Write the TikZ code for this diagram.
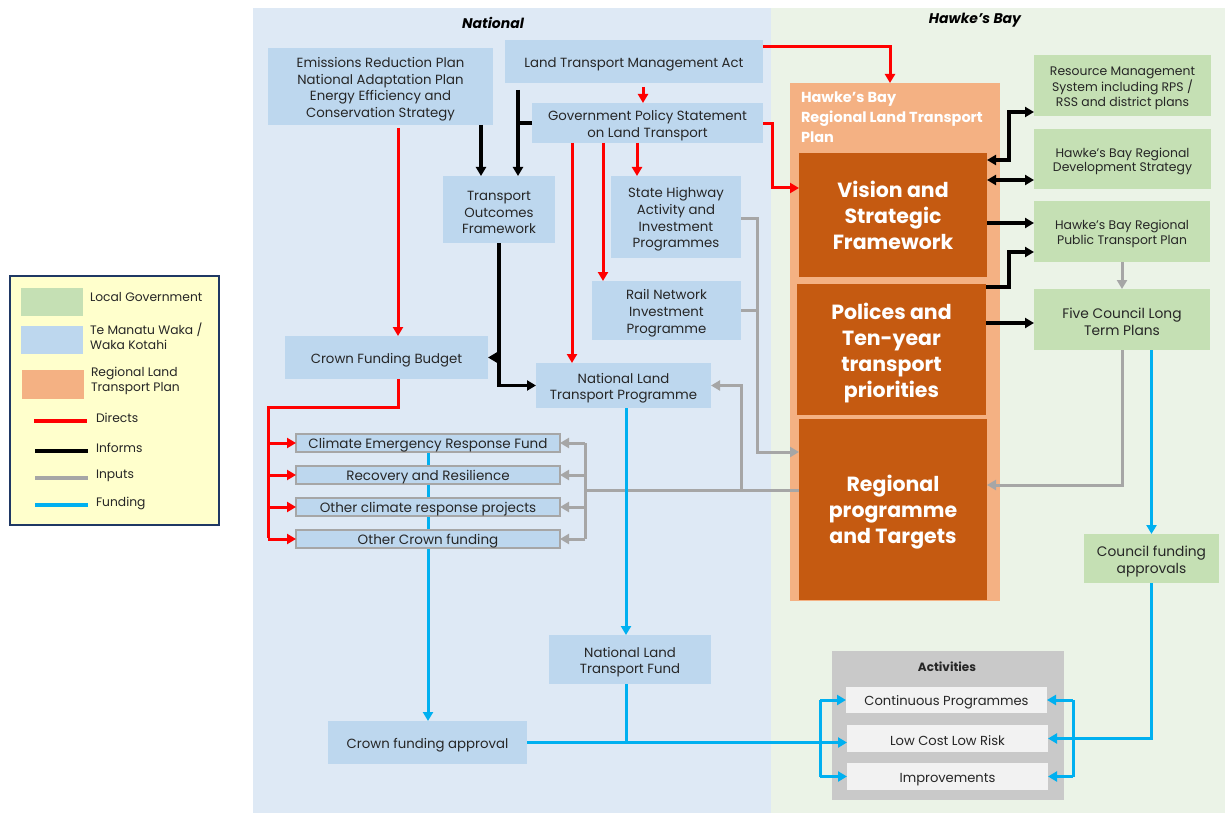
\documentclass[tikz,border=0pt]{standalone}
\usepackage{fontspec}
\setmainfont{Poppins}
\usetikzlibrary{arrows.meta,calc}

\definecolor{natbg}{HTML}{DEE9F5}
\definecolor{hbbg}{HTML}{EBF3E7}
\definecolor{tpblue}{HTML}{BDD7EE}
\definecolor{lgreen}{HTML}{C5E0B4}
\definecolor{lorange}{HTML}{F4B183}
\definecolor{rust}{HTML}{C55A11}
\definecolor{dirred}{HTML}{FF0000}
\definecolor{inpgray}{HTML}{A6A6A6}
\definecolor{fundblue}{HTML}{00B0F0}
\definecolor{legfill}{HTML}{FFFFCC}
\definecolor{navy}{HTML}{1F3864}
\definecolor{actbg}{HTML}{C9C9C9}
\definecolor{actfill}{HTML}{F2F2F2}
\definecolor{ink}{HTML}{262626}

\pgfdeclarelayer{panel}
\pgfdeclarelayer{under}
\pgfsetlayers{panel,under,main}

% invisible strut opening the first text line of a box (set by the 'lowered' style)
\newcommand\boxstrut{\relax}

% node from its corner coordinates: name, style, x1, y1, x2, y2, text
\newcommand\placebox[7]{%
  \node[#2, minimum width={#5-#3}, minimum height={#6-#4}] (#1)
    at ({(#3+#5)/2},{(#4+#6)/2}) {\boxstrut #7};}

\begin{document}
\begin{tikzpicture}[x=1pt,y=-1pt,
  every node/.style={inner sep=0pt, outer sep=0pt},
  % a tall strut on the first line sets the text a little lower in its box
  lowered/.style={/utils/exec={\def\boxstrut{\rule{0pt}{#1}}}},
  box/.style={fill=tpblue, align=center, text=ink,
    font=\fontsize{13.3}{16.7}\selectfont, lowered=1.15em},
  fund/.style={fill=tpblue, align=center, text=ink, draw=inpgray, line width=2pt,
    font=\fontsize{13.5}{16}\selectfont, lowered=1.05em},
  gbox/.style={fill=lgreen, align=center, text=ink,
    font=\fontsize{12.4}{14.5}\selectfont, lowered=1.15em},
  gboxl/.style={gbox, font=\fontsize{13.8}{17}\selectfont},
  plan/.style={fill=lorange, lowered=0pt},
  plantitle/.style={text=white, align=left,
    font=\bfseries\fontsize{14.5}{20}\selectfont},
  dark/.style={fill=rust, text=white, align=center,
    font=\bfseries\fontsize{20.5}{26}\selectfont, lowered=0.8em},
  actbox/.style={fill=actbg, lowered=0pt},
  act/.style={fill=actfill, text=ink, align=center,
    font=\fontsize{13.1}{15}\selectfont, lowered=1.15em},
  title/.style={font=\bfseries\itshape\fontsize{14}{16}\selectfont, text=black},
  legtxt/.style={anchor=west, align=left, text=ink,
    font=\fontsize{12.3}{15}\selectfont},
  tip/.style={-{Triangle[length=9pt,width=10pt]}},
  bitip/.style={{Triangle[length=9pt,width=10pt]}-{Triangle[length=9pt,width=10pt]}},
  directs/.style={draw=dirred, line width=3pt},
  informs/.style={draw=black, line width=3.5pt},
  inputs/.style={draw=inpgray, line width=3pt},
  funding/.style={draw=fundblue, line width=3pt},
  legline/.style={line width=4pt}
]
\useasboundingbox (0,0) rectangle (1225,813);

% ---------- panels ----------
\begin{pgfonlayer}{panel}
  \fill[white] (0,0) rectangle (1225,813);
  \fill[natbg] (253,8) rectangle (771,813);
  \fill[hbbg] (771,8) rectangle (1225,813);
\end{pgfonlayer}
\node[title] (natl) at (493,23) {National};
\node[title] (hbay) at (975,20) {Hawke’s Bay};

% ---------- legend ----------
\placebox{legend}{draw=navy, line width=2pt, fill=legfill, lowered=0pt}{10}{276}{219}{525}{}
\placebox{swlg}{fill=lgreen, lowered=0pt}{21}{288}{83}{316}{}
\placebox{swtp}{fill=tpblue, lowered=0pt}{21}{326}{83}{354}{}
\placebox{swrl}{fill=lorange, lowered=0pt}{22}{370}{84}{399}{}
\node[legtxt] (tlg) at (90,297) {Local Government};
\node[legtxt] (ttp) at (90,336) {Te Manatu Waka /\\Waka Kotahi};
\node[legtxt] (trl) at (91,381) {Regional Land\\Transport Plan};
\node[legtxt] (tdir) at (96,418) {Directs};
\node[legtxt] (tinf) at (96,448) {Informs};
\node[legtxt] (tinp) at (96,476) {Inputs};
\node[legtxt] (tfun) at (96,503) {Funding};
\draw[legline, dirred] (34,421) -- (87,421);
\draw[legline, black] (35,451) -- (88,451);
\draw[legline, inpgray] (35,478) -- (88,478);
\draw[legline, fundblue] (35,505) -- (88,505);

% ---------- national boxes ----------
\placebox{erp}{box}{268}{48}{493}{125}{Emissions Reduction Plan\\National Adaptation Plan\\Energy Efficiency and\\Conservation Strategy}
\placebox{ltma}{box}{505}{40}{763}{83}{Land Transport Management Act}
\placebox{gps}{box}{532}{103}{763}{143}{Government Policy Statement\\on Land Transport}
\placebox{tof}{box}{443}{176}{555}{243}{Transport\\Outcomes\\Framework}
\placebox{shaip}{box}{611}{176}{741}{258}{State Highway\\Activity and\\Investment\\Programmes}
\placebox{rnip}{box}{592}{281}{741}{340}{Rail Network\\Investment\\Programme}
\placebox{cfb}{box}{285}{336}{488}{379}{Crown Funding Budget}
\placebox{nltp}{box}{536}{363}{711}{408}{National Land\\Transport Programme}
\placebox{cerf}{fund}{296}{434}{560}{452}{Climate Emergency Response Fund}
\placebox{rr}{fund}{296}{466}{560}{484}{Recovery and Resilience}
\placebox{ocrp}{fund}{296}{498}{560}{516}{Other climate response projects}
\placebox{ocf}{fund}{296}{530}{560}{548}{Other Crown funding}
\placebox{nltf}{box}{549}{635}{711}{684}{National Land\\Transport Fund}
\placebox{cfa}{box}{328}{721}{527}{764}{Crown funding approval}

% ---------- regional plan ----------
\placebox{rltp}{plan}{790}{83}{1000}{601}{}
\node[plantitle, anchor=north west] (rltpt) at (801,92) {Hawke’s Bay\\Regional Land Transport\\Plan};
\placebox{vsf}{dark}{799}{153}{987}{277}{Vision and\\Strategic\\Framework}
\placebox{pty}{dark, lowered=1.1em}{797}{284}{986}{415}{Polices and\\Ten-year\\transport\\priorities}
\placebox{rpt}{dark, lowered=1.1em}{799}{419}{987}{600}{Regional\\programme\\and Targets}

% ---------- local government ----------
\placebox{rms}{gbox}{1034}{55}{1211}{116}{Resource Management\\System including RPS /\\RSS and district plans}
\placebox{hbrds}{gbox}{1034}{129}{1211}{189}{Hawke’s Bay Regional\\Development Strategy}
\placebox{hbrptp}{gbox}{1034}{201}{1210}{262}{Hawke’s Bay Regional\\Public Transport Plan}
\placebox{fcltp}{gboxl}{1034}{289}{1210}{350}{Five Council Long\\Term Plans}
\placebox{cfap}{gboxl}{1084}{534}{1219}{583}{Council funding\\approvals}

% ---------- activities ----------
\placebox{acts}{actbox}{832}{651}{1064}{800}{}
\node[font=\bfseries\fontsize{12}{14}\selectfont, text=ink] (actt) at (947,667) {Activities};
\placebox{cp}{act}{846}{687}{1047}{713}{Continuous Programmes}
\placebox{lclr}{act}{847}{725}{1048}{752}{Low Cost Low Risk}
\placebox{imp}{act}{847}{763}{1048}{790}{Improvements}

% ---------- directs ----------
\draw[directs, tip] (ltma.east |- 0,47) -| (890,0 |- rltp.north);
\draw[directs, tip] (643,87) -- (643,0 |- gps.north);
\draw[directs, tip] (gps.east |- 0,124) -- (772,124) -- (772,188) -- (vsf.west |- 0,188);
\draw[directs, tip] (637,0 |- gps.south) -- (637,0 |- shaip.north);
\draw[directs, tip] (603,0 |- gps.south) -- (603,0 |- rnip.north);
\draw[directs, tip] (572,0 |- gps.south) -- (572,0 |- nltp.north);
\draw[directs, tip] (398,128) -- (398,0 |- cfb.north);
\draw[directs] (398,0 |- cfb.south) -- (398,407) -- (268,407) -- (268,538);
\draw[directs, tip] (268,0 |- cerf.west) -- (cerf.west);
\draw[directs, tip] (268,0 |- rr.west) -- (rr.west);
\draw[directs, tip] (268,0 |- ocrp.west) -- (ocrp.west);
\draw[directs, tip] (268,0 |- ocf.west) -- (ocf.west);

% ---------- informs ----------
\draw[informs, tip] (481,0 |- erp.south) -- (481,0 |- tof.north);
\draw[informs, tip] (518,90) -- (518,0 |- tof.north);
\draw[informs] (gps.west) -- (518,0 |- gps.west);
\draw[informs, tip] (tof.south) |- (nltp.west);
\draw[informs, tip] (tof.south |- cfb.east) -- (cfb.east);
\draw[informs, bitip] (vsf.east |- 0,160) -- (1009,160) |- (rms.west |- 0,112);
\draw[informs, bitip] (vsf.east |- 0,180) -- (hbrds.west |- 0,180);
\draw[informs, tip] (vsf.east |- 0,223) -- (hbrptp.west |- 0,223);
\draw[informs, tip] (pty.east |- 0,287) -- (1009,287) |- (hbrptp.west |- 0,252);
\draw[informs, tip] (pty.east |- 0,323) -- (fcltp.west |- 0,323);

% ---------- inputs ----------
\draw[inputs, tip] (hbrptp.south) -- (fcltp.north);
\draw[inputs, tip] (fcltp.south) |- (rpt.east |- 0,485);
\draw[inputs, tip] (shaip.east |- 0,218) -- (757,218) |- (rpt.west |- 0,452);
\draw[inputs] (rnip.east) -- (757,0 |- rnip.east);
\draw[inputs] (rpt.west |- 0,490) -- (585,490);
\draw[inputs, tip] (741,490) |- (nltp.east);
\draw[inputs] (585,0 |- cerf.east) -- (585,0 |- ocf.east);
\draw[inputs, tip] (585,0 |- cerf.east) -- (cerf.east);
\draw[inputs, tip] (585,0 |- rr.east) -- (rr.east);
\draw[inputs, tip] (585,0 |- ocrp.east) -- (ocrp.east);
\draw[inputs, tip] (585,0 |- ocf.east) -- (ocf.east);

% ---------- funding ----------
\begin{pgfonlayer}{under}
  \draw[funding] (428,0 |- cerf.south) -- (428,700);
\end{pgfonlayer}
\draw[funding, tip] (428,700) -- (428,0 |- cfa.north);
\draw[funding, tip] (626,0 |- nltp.south) -- (626,0 |- nltf.north);
\draw[funding] (626,0 |- nltf.south) -- (626,0 |- cfa.east);
\draw[funding, tip] (cfa.east) -- (lclr.west |- cfa.east);
\draw[funding] (820,0 |- cp.west) -- (820,0 |- imp.west);
\draw[funding, tip] (820,0 |- cp.west) -- (cp.west);
\draw[funding, tip] (820,0 |- imp.west) -- (imp.west);
\draw[funding, tip] (fcltp.south -| cfap.north) -- (cfap.north);
\draw[funding, tip] (cfap.south) |- (lclr.east);
\draw[funding] (1073,0 |- cp.east) -- (1073,0 |- imp.east);
\draw[funding, tip] (1073,0 |- cp.east) -- (cp.east);
\draw[funding, tip] (1073,0 |- imp.east) -- (imp.east);
\end{tikzpicture}
\end{document}
